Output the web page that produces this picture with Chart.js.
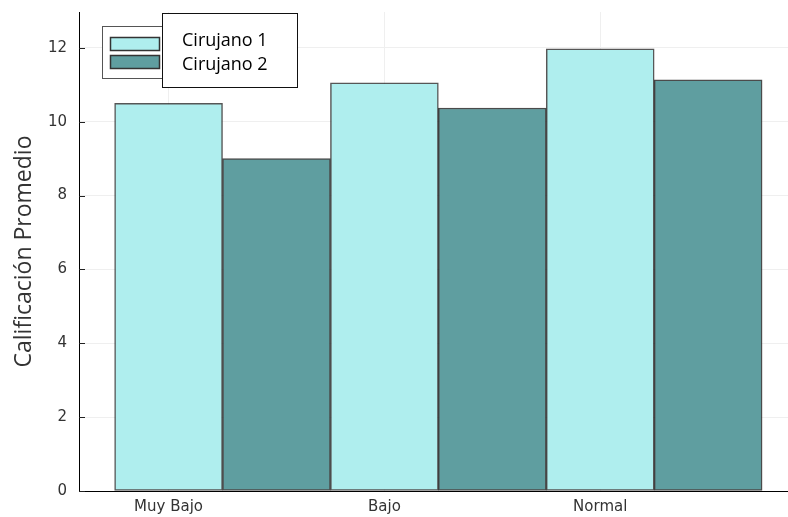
<!DOCTYPE html>
<html>
<head>
<meta charset="utf-8">
<script src="https://cdn.jsdelivr.net/npm/chart.js@4.4.1/dist/chart.umd.min.js"></script>
<style>
  html, body { margin: 0; padding: 0; background: #fff; }
  #wrap { width: 788px; height: 517px; }
</style>
</head>
<body>
<div id="wrap"><canvas id="chart" width="788" height="517"></canvas></div>
<script>
const categories = ['Muy Bajo', 'Bajo', 'Normal'];
const cirujano1 = [10.5, 11.05, 11.97];
const cirujano2 = [9.0, 10.37, 11.13];
const seriesNames = ['Cirujano 1', 'Cirujano 2'];
const yTicks = [0, 2, 4, 6, 8, 10, 12];

const c1Color = '#afeeee';
const c2Color = '#5f9ea0';

// each category takes two slots; the label sits under the first bar
const slot = i => 2 * i;

// Plots-style legend: small framed swatch box, with a white text box on top
const legendPlugin = {
    id: 'plotsLegend',
    afterDraw(chart) {
        const ctx = chart.ctx;
        const ds = chart.data.datasets;
        ctx.save();
        ctx.fillStyle = '#fff';
        ctx.strokeStyle = '#555';
        ctx.lineWidth = 1;
        ctx.fillRect(102.5, 26.5, 70, 52);
        ctx.strokeRect(102.5, 26.5, 70, 52);
        const sy = [37, 55];
        ds.forEach((d, k) => {
            ctx.fillStyle = d.backgroundColor;
            ctx.fillRect(110.5, sy[k] + 0.5, 49, 13);
            ctx.strokeStyle = '#333';
            ctx.lineWidth = 1.5;
            ctx.strokeRect(110.5, sy[k] + 0.5, 49, 13);
        });
        ctx.fillStyle = '#fff';
        ctx.fillRect(162.5, 13.5, 135, 74);
        ctx.strokeStyle = '#111';
        ctx.lineWidth = 1;
        ctx.strokeRect(162.5, 13.5, 135, 74);
        ctx.fillStyle = '#000';
        ctx.font = '18px "Open Sans", sans-serif';
        ctx.textBaseline = 'alphabetic';
        ctx.textAlign = 'left';
        ds.forEach((d, k) => {
            ctx.fillText(d.label, 182, 46 + k * 24);
        });
        ctx.restore();
    }
};

// short tick marks pointing into the plot, like the original
const innerTicks = {
    id: 'innerTicks',
    afterDatasetsDraw(chart) {
        const ctx = chart.ctx;
        const y = chart.scales.y;
        const x = chart.scales.x;
        ctx.save();
        ctx.strokeStyle = '#222';
        ctx.lineWidth = 1;
        y.ticks.forEach(t => {
            const py = Math.round(y.getPixelForValue(t.value)) + 0.5;
            ctx.beginPath();
            ctx.moveTo(x.left, py);
            ctx.lineTo(x.left + 6, py);
            ctx.stroke();
        });
        ctx.restore();
    }
};

const ctx = document.getElementById('chart').getContext('2d');
new Chart(ctx, {
    type: 'bar',
    data: {
        datasets: [
            {
                label: seriesNames[0],
                data: categories.map((c, i) => ({ x: slot(i), y: cirujano1[i] })),
                backgroundColor: c1Color,
                borderColor: 'rgba(30,30,30,0.75)',
                borderWidth: 1.5,
                borderSkipped: false
            },
            {
                label: seriesNames[1],
                data: categories.map((c, i) => ({ x: slot(i) + 1, y: cirujano2[i] })),
                backgroundColor: c2Color,
                borderColor: 'rgba(30,30,30,0.8)',
                borderWidth: 1.5,
                borderSkipped: false
            }
        ]
    },
    options: {
        responsive: false,
        animation: false,
        grouped: false,
        barPercentage: 1,
        categoryPercentage: 1,
        layout: { padding: { top: 12, right: 0, left: 0, bottom: 0 } },
        plugins: {
            legend: { display: false },
            tooltip: { enabled: false }
        },
        scales: {
            x: {
                type: 'linear',
                offset: false,
                min: -0.83,
                max: 5.74,
                afterBuildTicks: scale => {
                    scale.ticks = categories.map((c, i) => ({ value: slot(i) }));
                },
                afterFit: scale => {
                    scale.height = 26;
                    scale.paddingLeft = 0;
                    scale.paddingRight = 0;
                },
                grid: { offset: false, color: '#efefef', lineWidth: 1, drawTicks: false },
                border: { color: '#000', width: 1 },
                ticks: {
                    padding: 7,
                    color: '#333',
                    font: { family: 'DejaVu Sans', size: 15 },
                    maxRotation: 0,
                    callback: v => categories[v / 2]
                }
            },
            y: {
                min: 0,
                max: 12.97,
                afterBuildTicks: scale => {
                    scale.ticks = yTicks.map(v => ({ value: v }));
                },
                afterFit: scale => {
                    scale.width = 79;
                    scale.paddingTop = 0;
                    scale.paddingBottom = 0;
                },
                grid: { color: '#efefef', lineWidth: 1, drawTicks: false },
                border: { color: '#000', width: 1 },
                ticks: {
                    padding: 12,
                    color: '#333',
                    font: { family: 'DejaVu Sans', size: 15 }
                },
                title: {
                    display: true,
                    text: 'Calificación Promedio',
                    color: '#333',
                    font: { family: 'Open Sans', size: 23 },
                    padding: { top: 11, bottom: 0 }
                }
            }
        }
    },
    plugins: [innerTicks, legendPlugin]
});
</script>
</body>
</html>
